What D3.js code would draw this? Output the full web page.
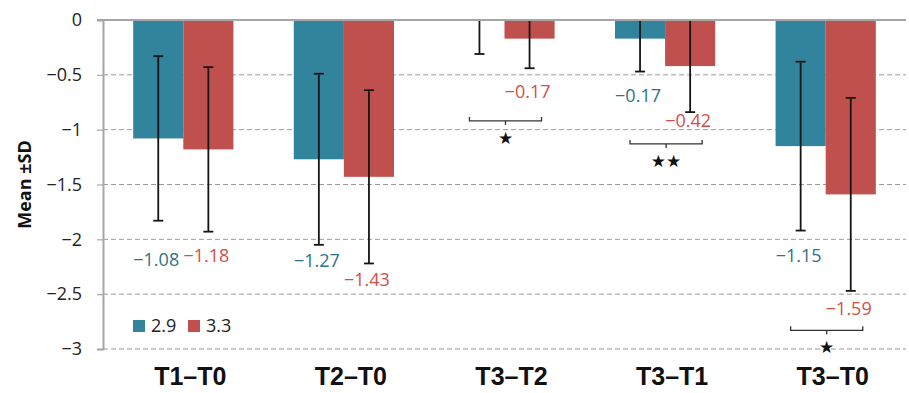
<!DOCTYPE html>
<html>
<head>
<meta charset="utf-8">
<script src="https://cdn.jsdelivr.net/npm/d3@7"></script>
<style>
  body { margin: 0; background: #fff; }
  svg { display: block; font-family: "Open Sans", sans-serif; }
</style>
</head>
<body>
<svg id="chart" width="909" height="393"></svg>
<script>
// Mean change per interval, two dose groups, with SD whiskers
const categories = ["T1–T0", "T2–T0", "T3–T2", "T3–T1", "T3–T0"];
const groups = ["2.9", "3.3"];
const means29 = [-1.08, -1.27, 0.0, -0.17, -1.15];
const means33 = [-1.18, -1.43, -0.17, -0.42, -1.59];
const sd29 = [0.75, 0.78, 0.31, 0.30, 0.77];
const sd33 = [0.75, 0.79, 0.27, 0.42, 0.88];
// where each value label sits (data units); null = no label
const labelAt29 = [-2.24, -2.25, null, -0.75, -2.21];
const labelAt33 = [-2.21, -2.43, -0.71, -0.98, -2.69];
const yTicks = [0, -0.5, -1, -1.5, -2, -2.5, -3];
// significance brackets between the two groups
const sigCats = ["T3–T2", "T3–T1", "T3–T0"];
const sigLevel = [-0.92, -1.13, -2.83];
const sigMarks = ["★", "★★", "★"];

const colors = { "2.9": "#31849b", "3.3": "#c0504d" };
const textColors = { "2.9": "#2f7286", "3.3": "#d24e4b" };

const svg = d3.select("#chart");
const plot = { left: 103, right: 906, top: 20, bottom: 349 };

const x0 = d3.scaleBand().domain(categories).range([plot.left, plot.right])
  .paddingInner(0.376).paddingOuter(0.188);
const x1 = d3.scaleBand().domain(groups).range([0, x0.bandwidth()]);
const y = d3.scaleLinear().domain([0, -3]).range([plot.top, plot.bottom]);

const fmt = (v) => v.toFixed(2).replace("-", "\u2212");

// gridlines
svg.append("g")
  .selectAll("line")
  .data(yTicks.filter((t) => t !== 0))
  .join("line")
  .attr("x1", plot.left).attr("x2", plot.right)
  .attr("y1", (d) => y(d)).attr("y2", (d) => y(d))
  .attr("stroke", "#9a9a9a")
  .attr("stroke-width", 1)
  .attr("stroke-dasharray", "5,3");

// y axis
const yAxis = svg.append("g")
  .attr("transform", `translate(${plot.left},0)`)
  .call(d3.axisLeft(y).tickValues(yTicks).tickSize(6).tickPadding(15)
    .tickFormat((d) => d === 0 ? "0" : String(d).replace("-", "\u2212")));
yAxis.select(".domain").attr("stroke", "#a6a6a6").attr("stroke-width", 2);
yAxis.selectAll(".tick line").attr("stroke", "#a6a6a6").attr("stroke-width", 1.2);
yAxis.selectAll(".tick text")
  .attr("font-family", "Open Sans, sans-serif")
  .attr("font-size", 18)
  .attr("fill", "#222");

svg.append("text")
  .attr("transform", `translate(31,${(plot.top + plot.bottom) / 2}) rotate(-90)`)
  .attr("text-anchor", "middle")
  .attr("font-weight", "bold")
  .attr("font-size", 18)
  .attr("fill", "#111")
  .text("Mean ±SD");

// rows: one per bar
const rows = [];
categories.forEach((c, i) => {
  rows.push({ cat: c, g: "2.9", mean: means29[i], sd: sd29[i], lab: labelAt29[i] });
  rows.push({ cat: c, g: "3.3", mean: means33[i], sd: sd33[i], lab: labelAt33[i] });
});
const cx = (d) => x0(d.cat) + x1(d.g) + x1.bandwidth() / 2;

svg.append("g")
  .selectAll("rect")
  .data(rows)
  .join("rect")
  .attr("x", (d) => x0(d.cat) + x1(d.g))
  .attr("width", x1.bandwidth())
  .attr("y", y(0))
  .attr("height", (d) => y(d.mean) - y(0))
  .attr("fill", (d) => colors[d.g]);

// zero line on top of bars
svg.append("line")
  .attr("x1", plot.left - 6).attr("x2", plot.right)
  .attr("y1", y(0)).attr("y2", y(0))
  .attr("stroke", "#a6a6a6").attr("stroke-width", 2);

// error bars, clipped at zero
const clampTop = (v) => Math.min(0, v);
const err = svg.append("g").attr("stroke", "#151515").attr("stroke-width", 1.8);
rows.forEach((d) => {
  const hi = d.mean + d.sd, lo = d.mean - d.sd;
  err.append("line")
    .attr("x1", cx(d)).attr("x2", cx(d))
    .attr("y1", y(clampTop(hi)) + 1).attr("y2", y(lo));
  [hi, lo].filter((v) => v < -0.02).forEach((v) => {
    err.append("line")
      .attr("x1", cx(d) - 5).attr("x2", cx(d) + 5)
      .attr("y1", y(v)).attr("y2", y(v));
  });
});

// value labels
svg.append("g")
  .selectAll("text")
  .data(rows.filter((d) => d.lab !== null))
  .join("text")
  .attr("x", (d) => cx(d) - 2)
  .attr("y", (d) => y(d.lab))
  .attr("text-anchor", "middle")
  .attr("font-size", 18)
  .attr("fill", (d) => textColors[d.g])
  .text((d) => fmt(d.mean));

// significance brackets
sigCats.forEach((c, i) => {
  const a = x0(c) + x1("2.9") + x1.bandwidth() / 2 - 10;
  const b = x0(c) + x1("3.3") + x1.bandwidth() / 2 + 12;
  const yy = y(sigLevel[i]);
  const mid = (a + b) / 2;
  svg.append("path")
    .attr("d", `M${a},${yy - 4}V${yy}H${b}V${yy - 4}M${mid},${yy}V${yy + 4}`)
    .attr("fill", "none")
    .attr("stroke", "#333")
    .attr("stroke-width", 1.3);
  svg.append("text")
    .attr("x", mid)
    .attr("y", yy + 23)
    .attr("text-anchor", "middle")
    .attr("font-family", "DejaVu Sans, sans-serif")
    .attr("font-size", 17)
    .attr("fill", "#111")
    .text(sigMarks[i]);
});

// category labels
svg.append("g")
  .selectAll("text")
  .data(categories)
  .join("text")
  .attr("x", (d) => x0(d) + x0.bandwidth() / 2 + 7)
  .attr("y", 385)
  .attr("text-anchor", "middle")
  .attr("font-family", "Liberation Sans, Arial, sans-serif")
  .attr("font-weight", "bold")
  .attr("font-size", 25)
  .attr("fill", "#111")
  .text((d) => d);

// legend
const legend = svg.append("g").attr("transform", "translate(133,320)");
groups.forEach((g, i) => {
  const gx = i * 55;
  legend.append("rect")
    .attr("x", gx).attr("y", 0)
    .attr("width", 12).attr("height", 12)
    .attr("fill", colors[g]);
  legend.append("text")
    .attr("x", gx + 18).attr("y", 12)
    .attr("font-size", 18)
    .attr("fill", "#222")
    .text(g);
});
</script>
</body>
</html>
